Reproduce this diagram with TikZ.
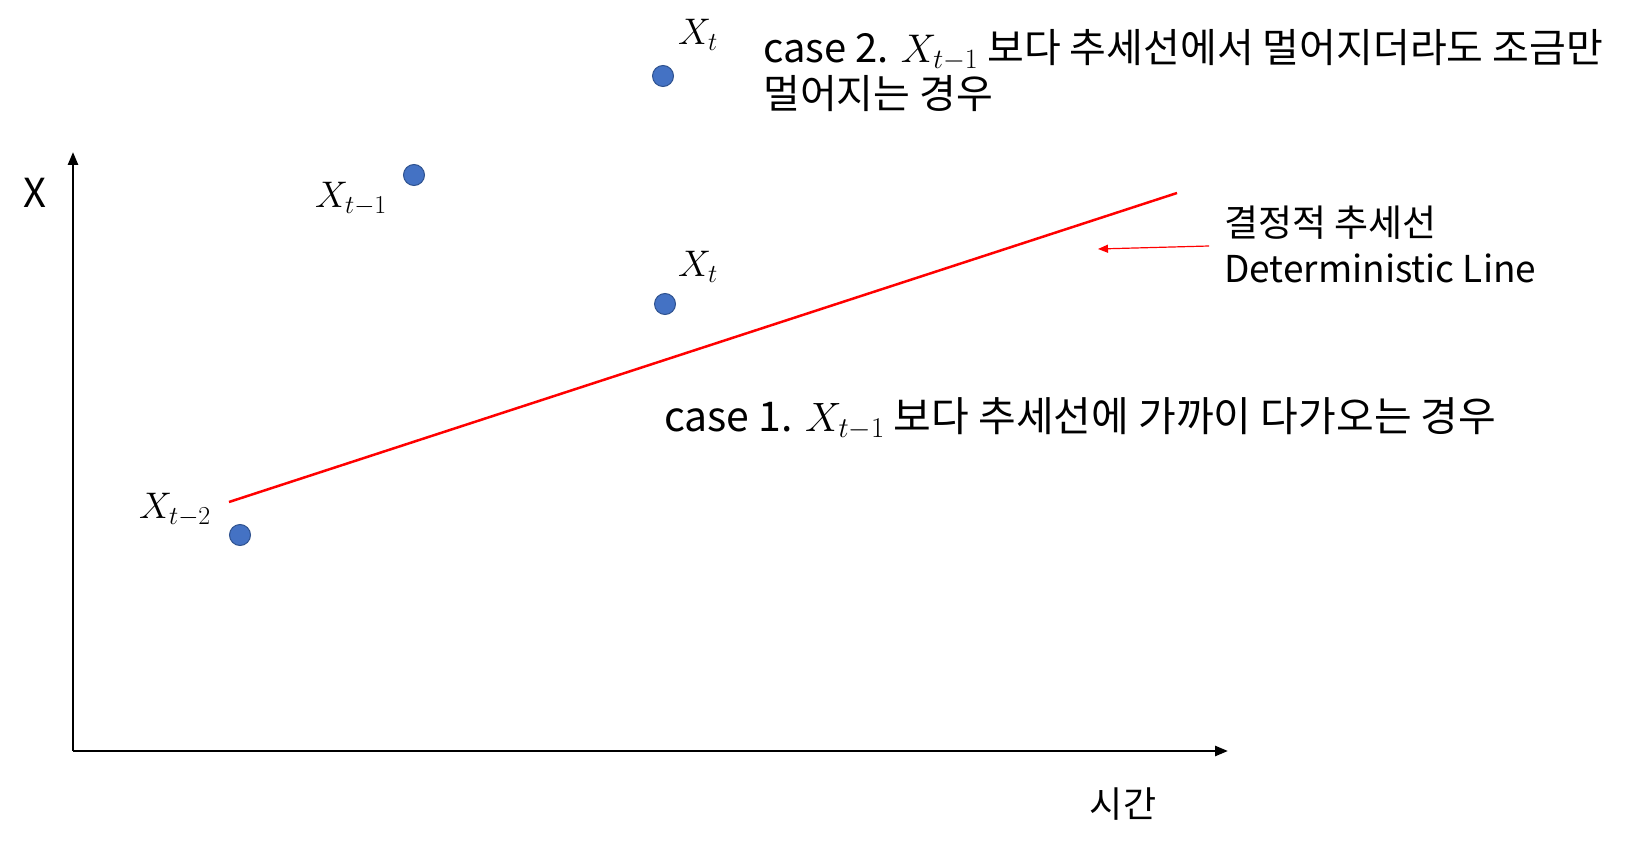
\documentclass[tikz,border=0pt]{standalone}
\usepackage{fix-cm}
\usepackage{fontspec}
\setmainfont{Noto Sans CJK KR}
\usetikzlibrary{arrows.meta, positioning}
\definecolor{dotblue}{RGB}{68,114,196}
\definecolor{dotedge}{RGB}{47,82,143}
\definecolor{trendred}{RGB}{255,0,0}

\begin{document}
\begin{tikzpicture}[x=1pt, y=-1pt,
  ptnode/.style  = {circle, fill=dotblue, draw=dotedge, line width=1pt,
                  minimum size=21pt, inner sep=0pt},
  lblnode/.style = {font=\fontsize{37}{40}\selectfont, inner sep=0pt},
  txtnode/.style = {font=\fontsize{40}{43}\selectfont, inner sep=0pt,
                  anchor=west, align=left},
  axis/.style    = {-{Triangle[length=13pt, width=10pt]}, line width=2.5pt},
  trend/.style   = {line width=2.5pt, color=trendred},
  ptr/.style     = {-{Triangle[length=10pt, width=8pt]}, line width=1.2pt, color=trendred},
]
\useasboundingbox (0,0) rectangle (1641,853);

%% Axes
\coordinate (origin) at (73,751);
\coordinate (ytop)   at (73,152);
\coordinate (xend)   at (1228,751);
\draw[axis] (origin) -- (ytop);
\draw[axis] (origin) -- (xend);
\node[lblnode, font=\fontsize{40}{44}\selectfont] (ylabel) at (35,193) {X};
\node[lblnode, font=\fontsize{36}{40}\selectfont] (xlabel) at (1123,804) {시간};

%% Trend line
\coordinate (trendA) at (229,502);
\coordinate (trendB) at (1177,193);
\draw[trend] (trendA) -- (trendB);

%% Data points
\node[ptnode] (xtm2) at (240,535) {};
\node[ptnode] (xtm1) at (414,175) {};
\node[ptnode] (xtlo) at (665,304) {};
\node[ptnode] (xthi) at (663,76)  {};

\node[lblnode] (lbltm2) at (175,510) {$X_{t-2}$};
\node[lblnode] (lbltm1) at (351,199) {$X_{t-1}$};
\node[lblnode] (lbltlo) at (698,267) {$X_t$};
\node[lblnode] (lblthi) at (698,35)  {$X_t$};

%% Annotations
\node[txtnode, font=\fontsize{37}{46}\selectfont] (trendtxt) at (1224,244)
  {결정적 추세선\\Deterministic Line};
\coordinate (ptrtail) at (1209,246);
\coordinate (ptrhead) at (1098,249);
\draw[ptr] (ptrtail) -- (ptrhead);

\node[txtnode, font=\fontsize{41}{44}\selectfont] (case1) at (664,419)
  {case 1. $X_{t-1}$ 보다 추세선에 가까이 다가오는 경우};
\node[txtnode, font=\fontsize{40}{46}\selectfont] (case2) at (763,71)
  {case 2. $X_{t-1}$ 보다 추세선에서 멀어지더라도 조금만\\멀어지는 경우};

\end{tikzpicture}
\end{document}
